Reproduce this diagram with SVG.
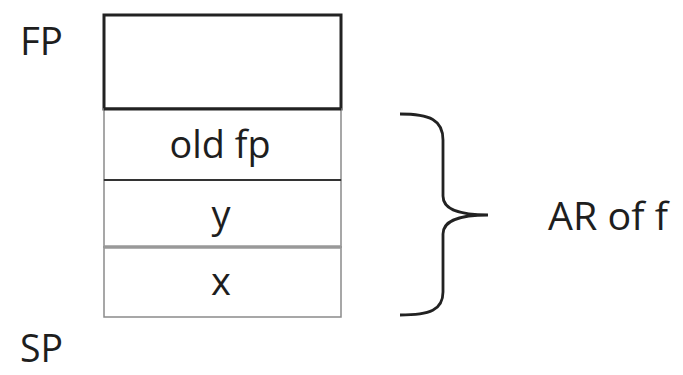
<svg xmlns="http://www.w3.org/2000/svg" width="683" height="375" viewBox="0 0 683 375">
<style>
text{font-family:"Open Sans","Liberation Sans",sans-serif;fill:#1e1e1e;font-size:38px}
.c{text-anchor:middle}
.cell{fill:#fff;stroke:#8a8a8a;stroke-width:1.5}
</style>
<rect width="683" height="375" fill="#fff"/>
<g id="label-fp"><text x="20" y="55" textLength="43" lengthAdjust="spacingAndGlyphs">FP</text></g>
<g id="label-sp"><text x="20" y="362" textLength="43" lengthAdjust="spacingAndGlyphs">SP</text></g>
<g id="cell-top"><rect x="104" y="15" width="237" height="94" fill="#fff" stroke="#222" stroke-width="3"/></g>
<g id="cell-oldfp"><rect class="cell" x="104" y="109" width="237" height="71"/><text class="c" x="220" y="158" textLength="101" lengthAdjust="spacingAndGlyphs">old fp</text></g>
<g id="cell-y"><rect class="cell" x="104" y="180" width="237" height="67"/><text class="c" x="221" y="228">y</text></g>
<g id="cell-x"><rect class="cell" x="104" y="247" width="237" height="70"/><text class="c" x="221" y="295">x</text></g>
<g id="connectors">
<line x1="104" y1="180" x2="341" y2="180" stroke="#333" stroke-width="1.8"/>
<line x1="104" y1="247" x2="341" y2="247" stroke="#999" stroke-width="3.5"/>
<line x1="104" y1="109" x2="341" y2="109" stroke="#222" stroke-width="3"/>
<path d="M400,114 C430,114 443,120 443,140 L443,196 C443,208 455,215 488,215 C455,215 443,222 443,234 L443,292 C443,310 430,315 400,315" fill="none" stroke="#222" stroke-width="2.8"/>
</g>
<g id="label-ar"><text x="548" y="230" textLength="120" lengthAdjust="spacingAndGlyphs">AR of f</text></g>
</svg>
